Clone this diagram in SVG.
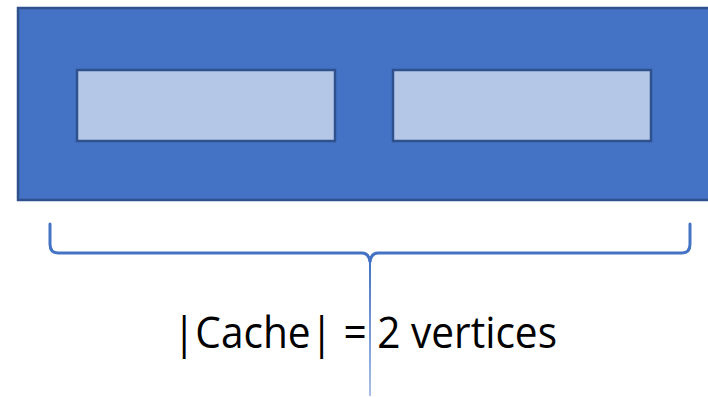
<svg xmlns="http://www.w3.org/2000/svg" width="708" height="397" viewBox="0 0 708 397">
  <style>
    .outer { fill: #4472C4; stroke: #2F528F; stroke-width: 2.5; }
    .slot { fill: #B4C7E7; stroke: #2F528F; stroke-width: 2.5; }
    .brace { fill: none; stroke: #4472C4; stroke-width: 3; stroke-linecap: round; }
    .label { font-family: "Open Sans", "Liberation Sans", sans-serif; font-size: 44px; fill: #000; }
  </style>
  <defs>
    <linearGradient id="fade" gradientUnits="userSpaceOnUse" x1="370" y1="262" x2="370" y2="397">
      <stop offset="0" stop-color="#4472C4" stop-opacity="1"/>
      <stop offset="1" stop-color="#4472C4" stop-opacity="0.45"/>
    </linearGradient>
  </defs>

  <g id="cache">
    <rect class="outer" x="18" y="8" width="700" height="192"/>
  </g>
  <g id="vertex-1">
    <rect class="slot" x="77" y="70" width="258" height="71"/>
  </g>
  <g id="vertex-2">
    <rect class="slot" x="393" y="70" width="258" height="71"/>
  </g>

  <g id="connectors">
    <!-- curly brace spanning the cache -->
    <path class="brace" d="M50,224 L50,244 Q50,253 58,253 L362,253 Q369,253 370,262 Q371,253 378,253 L682,253 Q690,253 690,244 L690,224"/>
    <!-- pointer line from the brace tip -->
    <path d="M370,262 L370,396" stroke="url(#fade)" stroke-width="2" fill="none"/>
  </g>

  <g id="size-label">
    <text class="label" x="173" y="348" textLength="384" lengthAdjust="spacingAndGlyphs">|Cache| = 2 vertices</text>
  </g>
</svg>
